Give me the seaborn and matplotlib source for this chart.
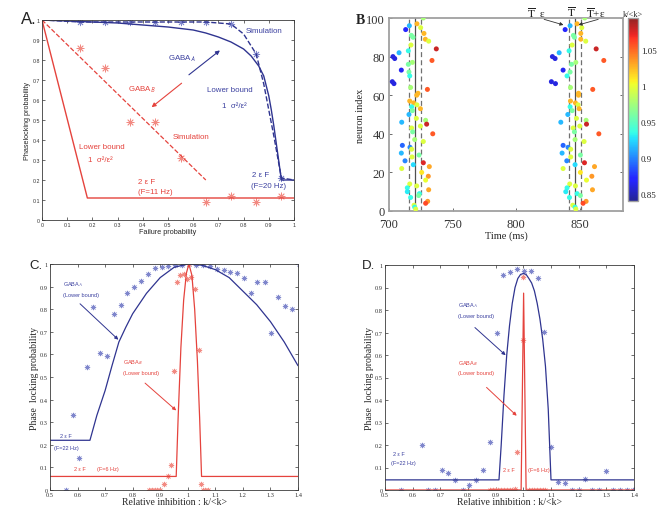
import numpy as np
import seaborn as sns
import matplotlib.pyplot as plt
from matplotlib.colors import Normalize, ListedColormap
from matplotlib.cm import ScalarMappable

# ---------------- panel A : phaselocking vs failure probability
a_bound_fail = [0, 0.1, 0.2, 0.3, 0.4, 0.5, 0.6, 0.65, 0.7, 0.75, 0.8, 0.83, 0.86, 0.88,
                0.9, 0.91, 0.92, 0.93, 0.94, 0.95, 1.0]
a_bound_gabaA = [1.0, 0.995, 0.99, 0.985, 0.975, 0.965, 0.95, 0.935, 0.915, 0.89, 0.855, 0.82,
                 0.77, 0.72, 0.62, 0.55, 0.47, 0.38, 0.29, 0.2, 0.2]
a_sim_fail = [0, 0.15, 0.25, 0.35, 0.45, 0.55, 0.65, 0.75, 0.8, 0.85, 0.88, 0.9, 0.92, 0.95, 1.0]
a_sim_gabaA = [1.0, 0.99, 0.99, 0.99, 0.99, 0.99, 0.99, 0.98, 0.93, 0.83, 0.68, 0.55, 0.42, 0.21, 0.2]
a_star_fail_A = [0.15, 0.25, 0.35, 0.45, 0.55, 0.65, 0.75, 0.85, 0.95]
a_star_gabaA = [0.99, 0.99, 0.99, 0.99, 0.99, 0.99, 0.98, 0.83, 0.21]
a_bound_fail_B = [0, 0.18, 1.0]
a_bound_gabaB = [1.0, 0.11, 0.11]
a_sim_fail_B = [0, 0.65]
a_sim_gabaB = [1.0, 0.2]
a_star_fail_B = [0.15, 0.25, 0.35, 0.45, 0.55, 0.65, 0.75, 0.85, 0.95]
a_star_gabaB = [0.86, 0.76, 0.49, 0.49, 0.31, 0.09, 0.12, 0.09, 0.12]

# ---------------- panel B : spike raster, two cycles
neuron = [100, 97, 96, 94, 95, 92, 91, 90, 89, 88, 86, 84, 83, 82, 80, 79, 78, 77, 76, 73,
          72, 70, 67, 66, 64, 63, 61, 60, 57, 56, 55, 54, 53, 52, 50, 48, 47, 46, 45, 44,
          43, 41, 40, 37, 36, 34, 33, 32, 30, 29, 28, 26, 25, 24, 23, 22, 20, 18, 16, 14,
          13, 12, 11, 10, 9, 8, 7, 5, 4, 3, 2, 1]
spike_t1 = [727.0, 722.0, 716.0, 713.1, 724.9, 727.5, 717.6, 718.9, 728.6, 731.2, 717.3, 737.2,
            715.2, 707.9, 703.1, 704.5, 733.8, 718.4, 715.2, 709.7, 715.7, 716.3, 702.6, 703.9,
            717.0, 730.2, 722.8, 721.8, 716.3, 719.4, 722.0, 717.8, 724.7, 718.4, 715.7, 721.5,
            728.8, 710.0, 729.6, 724.7, 717.8, 718.6, 734.4, 720.2, 727.0, 710.5, 716.5, 717.8,
            709.7, 723.6, 718.1, 712.6, 727.0, 719.1, 731.7, 710.0, 725.7, 730.9, 728.8, 716.3,
            721.8, 714.4, 731.2, 714.4, 723.9, 723.3, 717.0, 730.4, 728.8, 719.7, 720.2, 721.0]
spike_t2 = [853.9, 847.9, 842.4, 838.5, 851.6, 850.8, 845.0, 845.8, 850.8, 854.7, 844.0, 862.9,
            841.6, 833.8, 828.5, 830.6, 868.9, 846.9, 843.5, 836.9, 842.4, 840.0, 827.7, 830.9,
            842.7, 860.2, 849.0, 849.0, 842.7, 846.6, 848.7, 842.4, 849.5, 844.0, 840.6, 847.4,
            855.0, 835.1, 855.3, 850.0, 844.8, 845.8, 865.0, 846.3, 853.4, 836.9, 840.8, 842.9,
            836.1, 850.5, 842.9, 839.8, 853.7, 846.3, 861.6, 836.9, 850.5, 859.5, 855.3, 842.1,
            846.6, 840.0, 860.0, 839.0, 847.9, 850.5, 841.9, 855.0, 852.6, 844.5, 846.3, 846.9]
k_rel = [0.975, 1.025, 0.915, 0.87, 0.995, 1.025, 0.96, 0.96, 1.025, 0.995, 0.995, 1.08,
         0.935, 0.915, 0.86, 0.86, 1.055, 0.975, 0.96, 0.865, 0.96, 0.935, 0.86, 0.86,
         0.975, 1.055, 1.025, 1.025, 1.025, 1.025, 0.995, 0.935, 1.025, 0.96, 0.915, 0.995,
         0.975, 0.915, 1.08, 0.995, 0.995, 0.96, 1.055, 0.975, 0.995, 0.89, 0.9, 0.995,
         0.915, 0.96, 0.995, 0.9, 1.075, 0.925, 1.03, 0.995, 1.01, 1.035, 1.0, 0.995,
         0.995, 0.935, 1.03, 0.93, 0.935, 0.96, 0.935, 1.035, 1.06, 0.995, 0.935, 0.995]
cycle_mean = [720.4, 846.2]
cycle_eps = [715.7, 725.1, 841.2, 851.2]

# ---------------- panel C : phase locking vs relative inhibition (F = 22 / 6 Hz)
c_bound_k_A = [0.5, 0.645, 0.67, 0.7, 0.725, 0.75, 0.775, 0.8, 0.85, 0.9, 0.95, 1.0, 1.05,
               1.1, 1.15, 1.2, 1.25, 1.3, 1.35, 1.4]
c_bound_A = [0.22, 0.22, 0.33, 0.44, 0.55, 0.655, 0.72, 0.78, 0.87, 0.94, 0.985, 1.0, 0.995,
             0.975, 0.94, 0.88, 0.82, 0.745, 0.655, 0.55]
c_bound_k_B = [0.5, 0.958, 0.965, 0.975, 0.985, 0.995, 1.004, 1.015, 1.025, 1.035, 1.043, 1.05, 1.4]
c_bound_B = [0.06, 0.06, 0.32, 0.63, 0.84, 0.96, 1.0, 0.95, 0.8, 0.57, 0.32, 0.06, 0.06]
c_sim_k_A = [0.557, 0.582, 0.607, 0.633, 0.657, 0.682, 0.706, 0.733, 0.757, 0.781, 0.805,
             0.832, 0.856, 0.88, 0.906, 0.93, 0.954, 0.978, 1.004, 1.029, 1.055, 1.079, 1.106,
             1.13, 1.154, 1.178, 1.205, 1.229, 1.253, 1.279, 1.302, 1.328, 1.353, 1.377, 1.404]
c_sim_A = [0.0, 0.332, 0.14, 0.544, 0.81, 0.606, 0.594, 0.777, 0.818, 0.87, 0.9, 0.925, 0.954,
           0.982, 0.988, 0.99, 0.995, 0.997, 1.0, 0.997, 0.994, 0.99, 0.98, 0.973, 0.963, 0.959,
           0.94, 0.871, 0.92, 0.922, 0.696, 0.854, 0.812, 0.8, 1.0]
c_sim_k_B = [0.86, 0.87, 0.88, 0.89, 0.9, 0.915, 0.928, 0.94, 0.951, 0.96, 0.972, 0.985, 0.997,
             1.004, 1.012, 1.027, 1.039, 1.049, 1.056, 1.064, 1.072]
c_sim_B = [0.0, 0.0, 0.0, 0.0, 0.0, 0.027, 0.064, 0.11, 0.526, 0.92, 0.95, 0.957, 0.935, 1.0,
           0.942, 0.89, 0.62, 0.027, 0.0, 0.0, 0.0]

# ---------------- panel D : same, sharper tuning
d_bound_k_A = [0.5, 0.912, 0.92, 0.93, 0.94, 0.95, 0.96, 0.97, 0.98, 0.99, 1.0, 1.01, 1.02,
               1.03, 1.04, 1.05, 1.06, 1.07, 1.08, 1.09, 1.1, 1.4]
d_bound_A = [0.045, 0.045, 0.2, 0.42, 0.6, 0.73, 0.83, 0.9, 0.94, 0.958, 0.962, 0.958, 0.94,
             0.92, 0.885, 0.83, 0.76, 0.67, 0.55, 0.36, 0.045, 0.045]
d_bound_k_B = [0.5, 0.992, 1.001, 1.01, 1.4]
d_bound_B = [0.0, 0.0, 0.875, 0.0, 0.0]
d_sim_k_A = [0.557, 0.633, 0.657, 0.681, 0.705, 0.729, 0.754, 0.781, 0.805, 0.829, 0.853, 0.88,
             0.904, 0.928, 0.952, 0.978, 1.002, 1.027, 1.052, 1.076, 1.101, 1.127, 1.151, 1.176,
             1.2, 1.224, 1.249, 1.275, 1.3, 1.325, 1.349, 1.373, 1.398]
d_sim_A = [0.0, 0.2, 0.0, 0.0, 0.089, 0.075, 0.044, 0.0, 0.022, 0.044, 0.087, 0.214, 0.7, 0.956,
           0.969, 0.981, 0.975, 0.975, 0.941, 0.704, 0.189, 0.036, 0.033, 0.0, 0.0, 0.049, 0.0,
           0.0, 0.083, 0.0, 0.0, 0.0, 0.0]
d_sim_k_B = [0.88, 0.89, 0.9, 0.91, 0.92, 0.93, 0.94, 0.95, 0.96, 0.97, 0.978, 0.998, 1.0,
             1.02, 1.03, 1.04, 1.05, 1.06, 1.07, 1.08]
d_sim_B = [0.0, 0.0, 0.0, 0.0, 0.0, 0.0, 0.0, 0.0, 0.0, 0.005, 0.17, 0.945, 0.667,
           0.0, 0.0, 0.0, 0.0, 0.0, 0.0, 0.0]

BLUE = '#2f3490'
BLUE_TXT = '#3c41a0'
BLUE_PT = '#7f86cc'
RED = '#e5433d'
RED_PT = '#f28a82'
SANS = 'Liberation Sans'
SERIF = 'Liberation Serif'
STAR = (8, 2, 0)
# jet, slightly washed out like the printed figure
JET = ListedColormap(plt.get_cmap('jet')(np.linspace(0, 1, 256)) * 0.85 + 0.15)

sns.set_theme(style='ticks')
plt.rcParams['font.family'] = [SANS, 'DejaVu Sans']
plt.rcParams['mathtext.fontset'] = 'stix'


def box_axes(ax, xt, yt, fam, size, spine='#3a3a3a', lw=0.6):
    ax.set_xticks(xt)
    ax.set_yticks(yt)
    ax.set_xticklabels([f'{v:g}' for v in xt], fontfamily=fam, fontsize=size)
    ax.set_yticklabels([f'{v:g}' for v in yt], fontfamily=fam, fontsize=size)
    ax.tick_params(direction='in', length=2, width=0.5, top=True, right=True, pad=1.5,
                   colors='#333333')
    for s in ax.spines.values():
        s.set_visible(True)
        s.set_color(spine)
        s.set_linewidth(lw)


def arrow(ax, tail, tip, color, lw=0.8, ms=6):
    ax.annotate('', xy=tip, xytext=tail,
                arrowprops=dict(arrowstyle='-|>', color=color, lw=lw, mutation_scale=ms,
                                shrinkA=0, shrinkB=0), annotation_clip=False)


fig = plt.figure(figsize=(6.64, 5.10), dpi=100)

# ===================== A
axA = fig.add_axes([42 / 664, 1 - 221 / 510, 252 / 664, 200 / 510])
sns.lineplot(x=a_bound_fail, y=a_bound_gabaA, ax=axA, color=BLUE, lw=1.0, sort=False, estimator=None)
sns.lineplot(x=a_sim_fail, y=a_sim_gabaA, ax=axA, color=BLUE, lw=1.0, ls='--', sort=False, estimator=None)
sns.lineplot(x=a_bound_fail_B, y=a_bound_gabaB, ax=axA, color=RED, lw=1.0, sort=False, estimator=None)
sns.lineplot(x=a_sim_fail_B, y=a_sim_gabaB, ax=axA, color=RED, lw=0.9, ls='--', sort=False, estimator=None)
sns.scatterplot(x=a_star_fail_A, y=a_star_gabaA, ax=axA, marker=STAR, color=BLUE_PT, s=22, linewidth=0.6)
sns.scatterplot(x=a_star_fail_B, y=a_star_gabaB, ax=axA, marker=STAR, color=RED_PT, s=26, linewidth=0.6)
axA.set_xlim(0, 1)
axA.set_ylim(0, 1)
box_axes(axA, np.arange(0, 1.01, 0.1), np.arange(0, 1.01, 0.1), SANS, 3.8)
axA.set_xlabel('Failure probability', fontsize=5.2, labelpad=1)
axA.set_ylabel('Phaselocking probability', fontsize=5.2, labelpad=1)
ta = dict(fontsize=5.7, va='center')
axA.text(0.50, 0.81, 'GABA$_\\mathsf{A}$', color=BLUE_TXT, **ta)
axA.text(0.81, 0.95, 'Simulation', color=BLUE_TXT, **ta)
axA.text(0.656, 0.652, 'Lower bound', color=BLUE_TXT, **ta)
axA.text(0.713, 0.572, '1  σ²/ε²', color=BLUE_TXT, **ta)
axA.text(0.835, 0.228, '2 ε F', color=BLUE_TXT, **ta)
axA.text(0.828, 0.174, '(F=20 Hz)', color=BLUE_TXT, **ta)
axA.text(0.343, 0.655, 'GABA$_\\mathsf{B}$', color=RED, **ta)
axA.text(0.517, 0.42, 'Simulation', color=RED, **ta)
axA.text(0.145, 0.37, 'Lower bound', color=RED, **ta)
axA.text(0.184, 0.30, '1  σ²/ε²', color=RED, **ta)
axA.text(0.382, 0.195, '2 ε F', color=RED, **ta)
axA.text(0.38, 0.14, '(F=11 Hz)', color=RED, **ta)
arrow(axA, (0.583, 0.726), (0.706, 0.848), BLUE)
arrow(axA, (0.554, 0.684), (0.435, 0.564), RED)
fig.text(21 / 664, 1 - 19 / 510, 'A.', fontsize=12, va='center', color='#222222')

# ===================== B
axB = fig.add_axes([389 / 664, 1 - 212 / 510, 234 / 664, 193 / 510])
norm = Normalize(0.84, 1.094)
for t in cycle_eps:
    axB.axvline(t, color='#707070', lw=0.9, ls=(0, (4, 2.5)), zorder=1)
for t in cycle_mean:
    axB.axvline(t, color='#505050', lw=0.9, zorder=1)
for times in (spike_t1, spike_t2):
    sns.scatterplot(x=times, y=neuron, hue=k_rel, palette=JET, hue_norm=norm, legend=False,
                    ax=axB, s=13, linewidth=0, zorder=3)
axB.set_xlim(700, 884)
axB.set_ylim(0, 100)
axB.set_xticks([700, 750, 800, 850])
axB.set_yticks([0, 20, 40, 60, 80, 100])
axB.set_xticklabels(['700', '750', '800', '850'], fontfamily=SERIF, fontsize=9)
axB.set_yticklabels(['0', '20', '40', '60', '80', '100'], fontfamily=SERIF, fontsize=9,
                    va='center_baseline')
axB.tick_params(direction='in', length=2, width=0.5, right=True, colors='#333333')
axB.tick_params(axis='x', pad=5)
axB.tick_params(axis='y', pad=3)
for s in axB.spines.values():
    s.set_visible(True)
    s.set_color('#a0a0a0')
    s.set_linewidth(1.3)
axB.set_xlabel('Time (ms)', fontfamily=SERIF, fontsize=7.5, labelpad=0)
axB.set_ylabel('neuron index', fontfamily=SERIF, fontsize=7.5, labelpad=1)
tb = dict(fontfamily=SERIF, fontsize=8, ha='center', va='center', clip_on=False, color='#222222')
axB.text(815.5, 103.3, '$\\overline{\\mathrm{T}}$  ε', **tb)
axB.text(843.8, 103.3, '$\\overline{\\mathrm{T}}$', **tb)
axB.text(862.5, 103.3, '$\\overline{\\mathrm{T}}$+ε', **tb)
arrow(axB, (822, 99.3), (837.2, 96.4), '#333333', lw=0.6, ms=5)
arrow(axB, (864.5, 99.3), (849, 96.4), '#333333', lw=0.6, ms=5)
fig.text(356 / 664, 1 - 20 / 510, 'B', fontfamily=SERIF, fontsize=10, fontweight='bold',
         va='center', color='#222222')

cax = fig.add_axes([628 / 664, 1 - 202 / 510, 10 / 664, 183 / 510])
cb = fig.colorbar(ScalarMappable(norm=norm, cmap=JET), cax=cax)
cb.set_ticks([0.85, 0.9, 0.95, 1.0, 1.05])
cb.set_ticklabels(['0.85', '0.9', '0.95', '1', '1.05'])
cax.tick_params(labelsize=6.5, length=0, pad=2)
for lbl in cax.get_yticklabels():
    lbl.set_fontfamily(SERIF)
cb.outline.set_edgecolor('#a0a0a0')
cb.outline.set_linewidth(1.0)
cax.set_title('k/<k>', fontfamily=SERIF, fontsize=6, pad=1.5)

# ===================== C
axC = fig.add_axes([50 / 664, 19 / 510, 248 / 664, 226 / 510])
sns.lineplot(x=c_bound_k_A, y=c_bound_A, ax=axC, color=BLUE, lw=0.9, sort=False, estimator=None)
sns.lineplot(x=c_bound_k_B, y=c_bound_B, ax=axC, color=RED, lw=0.9, sort=False, estimator=None)
sns.scatterplot(x=c_sim_k_A, y=c_sim_A, ax=axC, marker=STAR, color=BLUE_PT, s=12, linewidth=0.5)
sns.scatterplot(x=c_sim_k_B, y=c_sim_B, ax=axC, marker=STAR, color=RED_PT, s=12, linewidth=0.5)
axC.set_xlim(0.5, 1.4)
axC.set_ylim(0, 1)
box_axes(axC, np.arange(0.5, 1.41, 0.1), np.arange(0, 1.01, 0.1), SERIF, 4.6)
axC.set_xlabel('Relative inhibition : k/<k>', fontfamily=SERIF, fontsize=7, labelpad=0)
axC.set_ylabel('Phase  locking probability', fontfamily=SERIF, fontsize=7, labelpad=1)
tc = dict(fontsize=4, va='center')
axC.text(0.548, 0.913, 'GABA$_\\mathsf{A}$', color=BLUE_TXT, **tc)
axC.text(0.548, 0.864, '(Lower bound)', color=BLUE_TXT, **tc)
axC.text(0.536, 0.241, '2 ε F', color=BLUE_TXT, **tc)
axC.text(0.515, 0.186, '(F=22 Hz)', color=BLUE_TXT, **tc)
axC.text(0.764, 0.569, 'GABA$_\\mathsf{B}$', color=RED, **tc)
axC.text(0.764, 0.521, '(Lower bound)', color=RED, **tc)
axC.text(0.587, 0.097, '2 ε F', color=RED, **tc)
axC.text(0.672, 0.097, '(F=6 Hz)', color=RED, **tc)
arrow(axC, (0.609, 0.824), (0.748, 0.665), BLUE, lw=0.7, ms=5)
arrow(axC, (0.845, 0.473), (0.958, 0.352), RED, lw=0.7, ms=5)
fig.text(29 / 664, 1 - 266 / 510, 'C.', fontsize=9.5, va='center', color='#222222')

# ===================== D
axD = fig.add_axes([385 / 664, 19 / 510, 249 / 664, 225 / 510])
sns.lineplot(x=d_bound_k_A, y=d_bound_A, ax=axD, color=BLUE, lw=0.9, sort=False, estimator=None)
sns.lineplot(x=d_bound_k_B, y=d_bound_B, ax=axD, color=RED, lw=0.9, sort=False, estimator=None)
sns.scatterplot(x=d_sim_k_A, y=d_sim_A, ax=axD, marker=STAR, color=BLUE_PT, s=12, linewidth=0.5)
sns.scatterplot(x=d_sim_k_B, y=d_sim_B, ax=axD, marker=STAR, color=RED_PT, s=12, linewidth=0.5)
axD.set_xlim(0.5, 1.4)
axD.set_ylim(0, 1)
box_axes(axD, np.arange(0.5, 1.41, 0.1), np.arange(0, 1.01, 0.1), SERIF, 4.6)
axD.set_xlabel('Relative inhibition : k/<k>', fontfamily=SERIF, fontsize=7, labelpad=0)
axD.set_ylabel('Phase  locking probability', fontfamily=SERIF, fontsize=7, labelpad=1)
axD.text(0.765, 0.825, 'GABA$_\\mathsf{A}$', color=BLUE_TXT, **tc)
axD.text(0.765, 0.774, '(Lower bound)', color=BLUE_TXT, **tc)
axD.text(0.530, 0.160, '2 ε F', color=BLUE_TXT, **tc)
axD.text(0.522, 0.123, '(F=22 Hz)', color=BLUE_TXT, **tc)
axD.text(0.765, 0.567, 'GABA$_\\mathsf{B}$', color=RED, **tc)
axD.text(0.765, 0.522, '(Lower bound)', color=RED, **tc)
axD.text(0.928, 0.09, '2 ε F', color=RED, **tc)
axD.text(1.016, 0.09, '(F=6 Hz)', color=RED, **tc)
arrow(axD, (0.825, 0.722), (0.936, 0.599), BLUE, lw=0.7, ms=5)
arrow(axD, (0.867, 0.456), (0.976, 0.33), RED, lw=0.7, ms=5)
fig.text(362 / 664, 1 - 266 / 510, 'D.', fontsize=9.5, va='center', color='#222222')

fig.savefig('out.png', dpi=100)
